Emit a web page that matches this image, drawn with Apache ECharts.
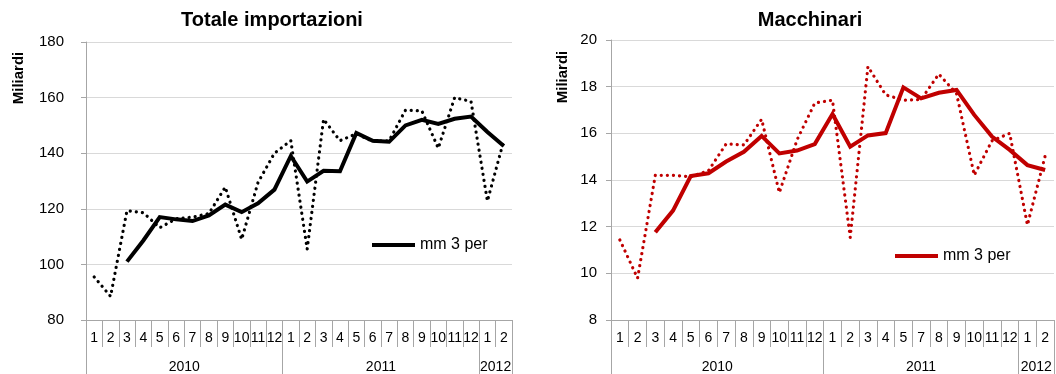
<!DOCTYPE html>
<html>
<head>
<meta charset="utf-8">
<script src="https://cdn.jsdelivr.net/npm/echarts@6/dist/echarts.min.js"></script>
<style>
  html, body { margin: 0; padding: 0; background: #fff; }
  #chart { width: 1056px; height: 374px; }
</style>
</head>
<body>
<div id="chart"></div>
<script>
// Month labels (category axis) and year groupings
const monthsTot = ['1','2','3','4','5','6','7','8','9','10','11','12','1','2','3','4','5','6','7','8','9','10','11','12','1','2'];
const monthsMac = ['1','2','3','4','5','6','7','8','9','10','11','12','1','2','3','4','5','7','8','9','10','11','12','1','2'];
const years = ['2010', '2011', '2012'];
const yearSpansTot = [12, 12, 2];
const yearSpansMac = [12, 11, 2];

// Totale importazioni (miliardi): monthly values and 3-month moving average
const totMonthly = [95.5, 88.5, 119.3, 118.6, 113.2, 116.4, 117.0, 118.3, 127.8, 109.0, 129.5, 140.0, 144.5,
                    105.5, 152.2, 144.5, 147.0, 144.3, 144.5, 155.5, 155.2, 141.8, 160.0, 158.6, 122.8, 144.6];
const totMM3 = [null, null, 101.0, 108.6, 117.0, 116.2, 115.6, 117.6, 121.5, 118.8, 122.0, 126.9, 139.0,
                129.8, 133.7, 133.5, 147.3, 144.5, 144.1, 150.0, 152.0, 150.5, 152.4, 153.2, 147.6, 142.6];

// Macchinari (miliardi): monthly values and 3-month moving average
const macMonthly = [11.43, 9.79, 14.2, 14.2, 14.14, 14.4, 15.55, 15.5, 16.6, 13.46, 15.72, 17.3, 17.42,
                    11.54, 18.86, 17.65, 17.42, 17.45, 18.54, 17.7, 14.21, 15.68, 16.0, 12.07, 15.03];
const macMM3 = [null, null, 11.76, 12.69, 14.17, 14.29, 14.79, 15.21, 15.89, 15.14, 15.26, 15.54, 16.83,
                15.43, 15.91, 16.01, 17.97, 17.5, 17.74, 17.86, 16.79, 15.86, 15.29, 14.64, 14.43];

const FONT = '"Liberation Sans", Arial, sans-serif';
const AXIS_GREY = '#a6a6a6';
const GRID_GREY = '#d9d9d9';
const RED = '#c00000';

// Year boundary positions and label centres on a 0..N value scale
function yearBounds(spans) {
  const b = [0];
  spans.forEach(s => b.push(b[b.length - 1] + s));
  return b;
}
function yearCentres(spans) {
  const b = yearBounds(spans);
  return spans.map((s, i) => b[i] + s / 2);
}

function monthAxis(gridIndex, data) {
  return {
    type: 'category', gridIndex, data, boundaryGap: true,
    axisLine: { lineStyle: { color: AXIS_GREY, width: 1 } },
    axisTick: { show: true, interval: 0, length: 27, lineStyle: { color: AXIS_GREY } },
    axisLabel: { interval: 0, fontSize: 14, color: '#000', fontFamily: FONT, margin: 11 },
    splitLine: { show: false }
  };
}
function yearAxis(gridIndex, spans) {
  const total = spans.reduce((a, b) => a + b, 0);
  const centres = yearCentres(spans);
  return {
    type: 'value', gridIndex, position: 'bottom', min: 0, max: total,
    axisLine: { show: false },
    splitLine: { show: false },
    axisTick: { show: true, customValues: yearBounds(spans), length: 60, lineStyle: { color: AXIS_GREY } },
    axisLabel: {
      customValues: centres, fontSize: 14, color: '#000', fontFamily: FONT, margin: 40,
      formatter: v => years[centres.indexOf(v)] || ''
    }
  };
}
function valueAxis(gridIndex, min, max, interval, margin) {
  return {
    type: 'value', gridIndex, min, max, interval,
    axisLine: { show: true, lineStyle: { color: AXIS_GREY } },
    axisTick: { show: true, length: 5, lineStyle: { color: AXIS_GREY } },
    axisLabel: { fontSize: 15, color: '#000', fontFamily: FONT, margin },
    splitLine: { show: true, lineStyle: { color: GRID_GREY, width: 1 } }
  };
}
function dotted(name, xi, yi, data, color) {
  return {
    name, type: 'line', xAxisIndex: xi, yAxisIndex: yi, data,
    showSymbol: false, symbol: 'none', silent: true, z: 2,
    color, itemStyle: { color },
    lineStyle: { color, width: 3.2, type: [0.1, 6], cap: 'round' }
  };
}
function solid(name, xi, yi, data, color) {
  return {
    name, type: 'line', xAxisIndex: xi, yAxisIndex: yi, data,
    showSymbol: false, symbol: 'none', silent: true, z: 3, connectNulls: false,
    color, itemStyle: { color },
    lineStyle: { color, width: 4, cap: 'butt', join: 'miter' }
  };
}

const chart = echarts.init(document.getElementById('chart'), null, { renderer: 'canvas' });
chart.setOption({
  animation: false,
  backgroundColor: '#fff',
  textStyle: { fontFamily: FONT },
  title: [
    { text: 'Totale importazioni', left: 267, top: 5, textAlign: 'center',
      textStyle: { fontSize: 20, fontWeight: 'bold', color: '#000', fontFamily: FONT } },
    { text: 'Macchinari', left: 805, top: 5, textAlign: 'center',
      textStyle: { fontSize: 20, fontWeight: 'bold', color: '#000', fontFamily: FONT } }
  ],
  legend: [
    { left: 372, top: 237, padding: 0, icon: 'rect', itemWidth: 43, itemHeight: 4,
      data: [{ name: 'mm 3 per', itemStyle: { color: '#000' } }],
      textStyle: { fontSize: 16, color: '#000', fontFamily: FONT } },
    { left: 895, top: 248, padding: 0, icon: 'rect', itemWidth: 43, itemHeight: 4,
      data: [{ name: 'mm 3 per', itemStyle: { color: RED } }],
      textStyle: { fontSize: 16, color: '#000', fontFamily: FONT } }
  ],
  grid: [
    { left: 86, top: 42, width: 426, height: 278 },
    { left: 611, top: 40, width: 443, height: 280 }
  ],
  xAxis: [
    monthAxis(0, monthsTot),
    yearAxis(0, yearSpansTot),
    monthAxis(1, monthsMac),
    yearAxis(1, yearSpansMac)
  ],
  yAxis: [
    valueAxis(0, 80, 180, 20, 22),
    valueAxis(1, 8, 20, 2, 14)
  ],
  graphic: [
    { type: 'text', x: 19, y: 78, rotation: Math.PI / 2,
      style: { text: 'Miliardi', font: 'bold 15px ' + FONT, fill: '#000', align: 'center', verticalAlign: 'middle' } },
    { type: 'text', x: 563, y: 77, rotation: Math.PI / 2,
      style: { text: 'Miliardi', font: 'bold 15px ' + FONT, fill: '#000', align: 'center', verticalAlign: 'middle' } }
  ],
  series: [
    dotted('mensile', 0, 0, totMonthly, '#000'),
    solid('mm 3 per', 0, 0, totMM3, '#000'),
    dotted('mensile ', 2, 1, macMonthly, RED),
    solid('mm 3 per', 2, 1, macMM3, RED)
  ]
});
</script>
</body>
</html>
